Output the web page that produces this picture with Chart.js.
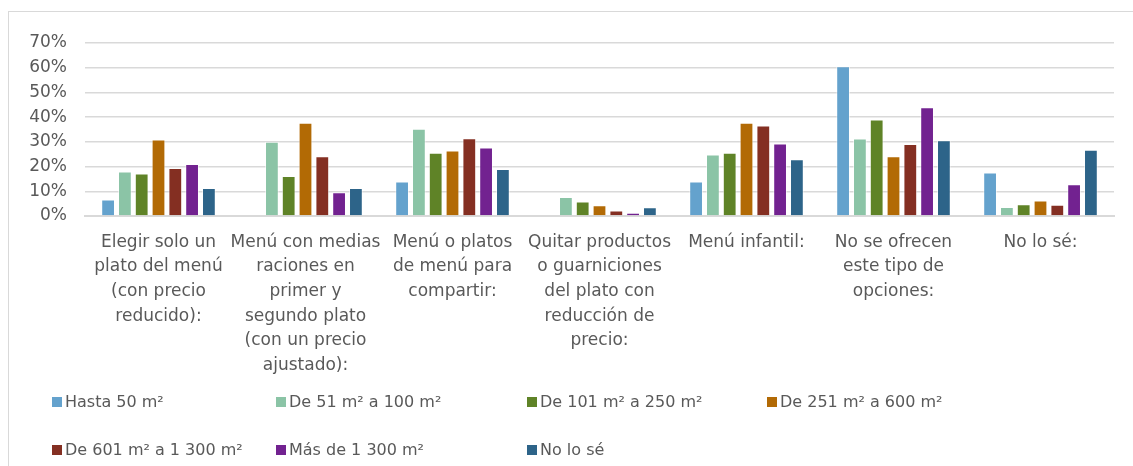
<!DOCTYPE html>
<html lang="es">
<head>
    <meta charset="UTF-8">
    <title>Opciones de menú por superficie del local</title>
    <script src="https://cdn.jsdelivr.net/npm/chart.js"></script>
    <style>
        html, body { margin: 0; background: #fff; font-family: "DejaVu Sans", sans-serif; overflow: hidden; }
        #wrap { position: relative; width: 1133px; height: 466px; overflow: hidden; }
        #frame { position: absolute; left: 8px; top: 11px; width: 1200px; height: 500px; border-top: 1px solid #d9d9d9; border-left: 1px solid #d9d9d9; }
        #chartBox { position: absolute; left: 0; top: 0; width: 1133px; height: 376px; }
        #legend { position: absolute; left: 0; top: 0; width: 1133px; height: 466px; pointer-events: none; }
        .item { position: absolute; font-size: 16px; color: #595959; white-space: nowrap; line-height: 20px; }
        .item span.box { display: inline-block; width: 10px; height: 10px; margin-right: 3px; vertical-align: 0px; }
    </style>
</head>
<body>
<div id="wrap">
    <div id="frame"></div>
    <div id="chartBox"><canvas id="chart" width="1133" height="376"></canvas></div>
    <div id="legend"></div>
</div>

<script>
    // categories (multi-line labels as in the original)
    const categories = [
        ["Elegir solo un", "plato del menú", "(con precio", "reducido):"],
        ["Menú con medias", "raciones en", "primer y", "segundo plato", "(con un precio", "ajustado):"],
        ["Menú o platos", "de menú para", "compartir:"],
        ["Quitar productos", "o guarniciones", "del plato con", "reducción de", "precio:"],
        ["Menú infantil:"],
        ["No se ofrecen", "este tipo de", "opciones:"],
        ["No lo sé:"]
    ];

    const seriesNames = [
        "Hasta 50 m²",
        "De 51 m² a 100 m²",
        "De 101 m² a 250 m²",
        "De 251 m² a 600 m²",
        "De 601 m² a 1 300 m²",
        "Más de 1 300 m²",
        "No lo sé"
    ];

    const seriesColors = ["#64a2cd", "#8bc4a6", "#5f8327", "#b26a05", "#842f22", "#722290", "#2d6489"];

    // values in %
    const hasta50   = [6.7, 0,    14.0, 0,   14.0, 60.6, 17.6];
    const de51a100  = [18.0, 30.0, 35.3, 7.7, 24.9, 31.4, 3.6];
    const de101a250 = [17.2, 16.2, 25.6, 5.9, 25.6, 39.0, 4.8];
    const de251a600 = [31.0, 37.7, 26.5, 4.3, 37.7, 24.2, 6.3];
    const de601a1300 = [19.4, 24.2, 31.5, 2.2, 36.6, 29.1, 4.6];
    const mas1300   = [21.0, 9.6,  27.7, 1.3, 29.3, 44.0, 12.8];
    const noLoSe    = [11.3, 11.3, 19.0, 3.5, 23.0, 30.6, 26.8];

    const yTicks = [0, 10, 20, 30, 40, 50, 60, 70];

    const allValues = [hasta50, de51a100, de101a250, de251a600, de601a1300, mas1300, noLoSe];

    const datasets = allValues.map((vals, i) => ({
        label: seriesNames[i],
        data: vals,
        backgroundColor: seriesColors[i],
        borderColor: 'rgba(255,255,255,0.55)',
        borderWidth: 1,
        categoryPercentage: 0.8,
        barPercentage: 0.82
    }));

    const textColor = '#595959';
    const fontFamily = '"DejaVu Sans", sans-serif';

    new Chart(document.getElementById('chart'), {
        type: 'bar',
        data: { labels: categories, datasets: datasets },
        options: {
            responsive: false,
            animation: false,
            layout: { padding: { top: 43, right: 19, left: 0, bottom: 0 } },
            plugins: { legend: { display: false }, tooltip: { enabled: false } },
            scales: {
                x: {
                    grid: { display: false, drawTicks: false },
                    border: { display: true, color: '#d9d9d9', width: 2 },
                    ticks: {
                        color: textColor,
                        font: { family: fontFamily, size: 17, lineHeight: 1.45 },
                        padding: 14,
                        maxRotation: 0,
                        autoSkip: false
                    },
                    afterFit: s => { s.height = 160; }
                },
                y: {
                    min: 0,
                    max: 70,
                    afterBuildTicks: s => { s.ticks = yTicks.map(v => ({ value: v })); },
                    grid: { color: '#d9d9d9', lineWidth: 1.5, drawTicks: false },
                    border: { display: false },
                    ticks: {
                        color: textColor,
                        font: { family: fontFamily, size: 17 },
                        padding: 18,
                        callback: v => v + '%'
                    },
                    afterFit: s => { s.width = 85; }
                }
            }
        }
    });

    // legend laid out in fixed columns like the original
    const legendCols = [52, 276, 527, 767];
    const legendRows = [392, 440];
    const legend = document.getElementById('legend');
    seriesNames.forEach((name, i) => {
        const div = document.createElement('div');
        div.className = 'item';
        div.style.left = legendCols[i % 4] + 'px';
        div.style.top = legendRows[Math.floor(i / 4)] + 'px';
        div.innerHTML = '<span class="box" style="background:' + seriesColors[i] + '"></span>' + name;
        legend.appendChild(div);
    });
</script>
</body>
</html>
